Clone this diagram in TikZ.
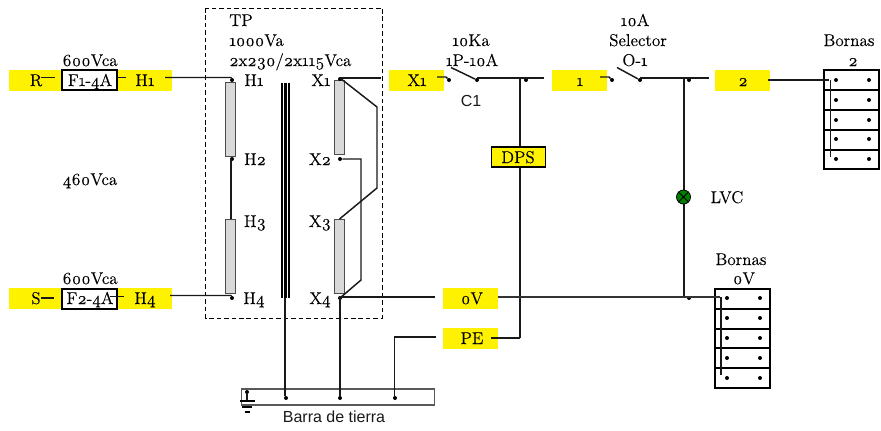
\documentclass[tikz,border=0pt]{standalone}
\usepackage{fontspec}
\setmainfont{Latin Modern Roman}[Numbers=OldStyle,FakeBold=0.15]
\newfontfamily\arialish{Liberation Sans}
\definecolor{tagyellow}{HTML}{FFF200}
\definecolor{coilgrey}{HTML}{D9D9D9}
\definecolor{lampgreen}{HTML}{008000}
\tikzset{
  lbl/.style={anchor=base,inner sep=0pt,font=\fontsize{12.8}{14}\selectfont,text=black},
  sanslbl/.style={anchor=base,inner sep=0pt,font=\arialish\fontsize{12}{14}\selectfont,text=black!90},
  tagbox/.style={fill=tagyellow,draw=none,minimum width=41.25pt,minimum height=15.75pt,inner sep=0pt},
  stripbox/.style={fill=tagyellow,draw=none,minimum width=122.25pt,minimum height=15.75pt,inner sep=0pt},
  fusebox/.style={fill=white,draw=black,line width=1.1pt,minimum width=41.25pt,minimum height=15pt,inner sep=0pt},
  dpsbox/.style={fill=yellow,draw=black,line width=.8pt,minimum width=40.5pt,minimum height=15pt,inner sep=0pt},
  coil/.style={fill=coilgrey,draw=black!70,line width=.7pt,minimum width=7.5pt,minimum height=55.5pt,inner sep=0pt},
  dotmark/.style={circle,fill=black,draw=none,minimum size=3pt,inner sep=0pt},
  wire/.style={draw=black!90,line width=1.1pt},
  termbox/.style={draw=black,line width=1.1pt},
}
\begin{document}
\begin{tikzpicture}[x=.75pt,y=-.75pt]
\useasboundingbox (0,0) rectangle (881,430);

% yellow tags
\node[stripbox] (stripR) at (90.5,80.5) {};
\node[stripbox] (stripS) at (90.5,298.5) {};
\node[fusebox] (fuseA) at (89.5,80) {};
\node[fusebox] (fuseB) at (89.5,299) {};
\node[tagbox] (tagX) at (416.5,80.5) {};
\node[tagbox] (tagA) at (579.5,80.5) {};
\node[tagbox] (tagB) at (742.5,80.5) {};
\node[tagbox] (tagZ) at (470.5,298.5) {};
\node[tagbox] (tagP) at (470.5,338.5) {};

% dashed enclosure
\draw[line width=.7pt,dash pattern=on 3.4pt off 2.2pt] (205.5,8) rectangle (382.5,318);

% coils
\node[coil] (coilA) at (230.5,119.5) {};
\node[coil] (coilB) at (230.5,256) {};
\node[coil] (coilC) at (339.5,117) {};
\node[coil] (coilD) at (339.5,256) {};

% core
\fill[black] (280.5,83) rectangle (289.5,298);
\fill[white] (282.6,83) rectangle (283.4,298);
\fill[white] (286.6,83) rectangle (287.4,298);

% earth bar
\node[draw=black!65,line width=.8pt,minimum width=145pt,minimum height=12pt,inner sep=0pt] (bar) at (337.75,397) {};

% dots
\foreach \n/\x/\y in {dA/232/80,dB/232/159,dC/232/298,dD/340/79,dE/340/159,dF/340/298,
  dG/449/80,dH/477/80,dI/526/80,dJ/612/80,dK/640/80,dL/689/80,dM/689/298,
  dN/286/398,dO/340/398,dP/395/398,dQ/247/392}
  \node[dotmark] (\n) at (\x,\y) {};

% terminal blocks
\draw[termbox] (824,70) rectangle (879,169);
\foreach \y in {90,110,130,150} \draw[termbox] (824,\y) -- (879,\y);
\foreach \n/\y in {1/80,2/100,3/120,4/139,5/159}{
  \node[dotmark] (tl\n) at (836,\y) {};
  \node[dotmark] (tr\n) at (869,\y) {};
}
\draw[termbox] (715,289) rectangle (770,388);
\foreach \y in {309,329,348,368} \draw[termbox] (715,\y) -- (770,\y);
\foreach \n/\y in {1/298,2/318,3/338,4/358,5/378}{
  \node[dotmark] (bl\n) at (727,\y) {};
  \node[dotmark] (br\n) at (760,\y) {};
}

% texts
\node[lbl] (v1) at (90,66) {600Vca};
\node[lbl] (v2) at (90,185) {460Vca};
\node[lbl] (v3) at (90,284) {600Vca};
\node[lbl] (tR) at (36,86) {R};
\node[lbl] (tF1) at (90,86) {F1-4A};
\node[lbl] (tH1) at (145,86) {H1};
\node[lbl] (tS) at (36,304) {S};
\node[lbl] (tF2) at (90,304) {F2-4A};
\node[lbl] (tH4) at (145,304) {H4};
\node[lbl,anchor=base west] (tp1) at (229,26) {TP};
\node[lbl,anchor=base west] (tp2) at (229,46) {1000Va};
\node[lbl,anchor=base west] (tp3) at (229,66) {2x230/2x115Vca};
\node[lbl] (pH1) at (254,86) {H1};
\node[lbl] (pH2) at (255,165) {H2};
\node[lbl] (pH3) at (255,227) {H3};
\node[lbl] (pH4) at (254,304) {H4};
\node[lbl] (sX1) at (321,86) {X1};
\node[lbl] (sX2) at (320,165) {X2};
\node[lbl] (sX3) at (320,227) {X3};
\node[lbl] (sX4) at (320,304) {X4};
\node[lbl] (tX1) at (417,86) {X1};
\node[lbl] (t10k) at (471,46) {10Ka};
\node[lbl] (t1p) at (472,66) {1P-10A};
\node[sanslbl] (tC1) at (471,106) {C1};
\node[lbl] (t1) at (580,86) {1};
\node[lbl] (t10a) at (635,26) {10A};
\node[lbl] (tSel) at (638,46) {Selector};
\node[lbl] (tO1) at (635,66) {O-1};
\node[lbl] (t2) at (743,86) {2};
\node[lbl] (tBo1) at (849,46) {Bornas};
\node[lbl] (tBo2) at (853,66) {2};
\node[lbl] (tLVC) at (727,203) {LVC};
\node[lbl] (tBo3) at (741,265) {Bornas};
\node[lbl] (tBo4) at (744,284) {0V};
\node[lbl] (t0V) at (472,304) {0V};
\node[lbl] (tPE) at (472,344) {PE};
\node[sanslbl] (tBar) at (334,422) {Barra de tierra};

% DPS and lamp are placed on the neutral wires
\coordinate (dpsTop) at (520,78);
\coordinate (dpsBot) at (520,338);
\draw[wire] (dpsTop) -- (dpsBot);
\node[dpsbox] (dps) at (518.5,157) {};
\node[lbl] (tDPS) at (518,163) {DPS};
\coordinate (lampTop) at (684,78);
\coordinate (lampBot) at (684,297);
\draw[wire] (lampTop) -- (lampBot);
\node[circle,fill=lampgreen,draw=black,line width=.6pt,minimum size=10.5pt,inner sep=0pt] (lamp) at (683.5,197) {};
\draw[black,line width=.6pt] (lamp.north west) -- (lamp.south east) (lamp.north east) -- (lamp.south west);

% connectors
\coordinate (rA) at (41,77.5); \coordinate (rB) at (55,77.5);
\coordinate (fA) at (117,77.5); \coordinate (fB) at (126,77.5);
\coordinate (h1A) at (165,77.5); \coordinate (h1B) at (231,77.5);
\draw[wire] (rA) -- (rB);
\draw[wire] (fA) -- (fB);
\draw[wire] (h1A) -- (h1B) -- (dA);
\coordinate (sA) at (41,298); \coordinate (sB) at (54,298);
\coordinate (f2A) at (110,296.5); \coordinate (f2B) at (124,296.5);
\coordinate (h4A) at (170,295.5); \coordinate (h4B) at (231,295.5);
\draw[wire] (sA) -- (sB);
\draw[wire] (f2A) -- (f2B);
\draw[wire] (h4A) -- (h4B) -- (dC);
\coordinate (hLink) at (231,159);
\draw[wire] (hLink) -- (hLink |- coilB.north);

\coordinate (x1L) at (340,78); \coordinate (x1R) at (381,78);
\draw[wire] (x1L) -- (x1R);
\coordinate (kA) at (377,107); \coordinate (kB) at (377,188); \coordinate (kC) at (339.5,219);
\draw[wire] (x1L) -- (kA) -- (kB) -- (kC);
\coordinate (mA) at (361,159); \coordinate (mB) at (361,280);
\draw[wire] (dE) -- (mA) -- (mB) -- (dF);
\coordinate (zL) at (340,297); \coordinate (zA) at (435,297);
\draw[wire] (zL) -- (zA);
\draw[wire] (zL) -- (zL |- dO.north);
\coordinate (coreBot) at (285,298);
\draw[wire] (coreBot) -- (coreBot |- dN.north);
\coordinate (peA) at (436,337); \coordinate (peB) at (394.5,337);
\coordinate (peC) at (491,338);
\draw[wire] (peA) -- (peB) -- (peB |- dP.north);
\draw[wire] (peC) -- (dpsBot);

\coordinate (xA) at (437,77); \coordinate (xB) at (446,77);
\draw[wire] (xA) -- (xB) -- (dG);
\coordinate (swA) at (451,67.5);
\draw[wire] (swA) -- (dH);
\coordinate (xD) at (477,78); \coordinate (xE) at (544,78);
\draw[wire] (xD) -- (xE);
\coordinate (oA) at (600,77); \coordinate (oB) at (609,77);
\draw[wire] (oA) -- (oB) -- (dJ);
\coordinate (swB) at (617,67.5);
\draw[wire] (swB) -- (dK);
\coordinate (oD) at (640,78); \coordinate (oE) at (709,78);
\draw[wire] (oD) -- (oE);
\coordinate (twoA) at (768,80);
\coordinate (twoB) at (829,80);
\draw[wire] (twoA) -- (twoB);
\coordinate (busAa) at (830.5,80); \coordinate (busAb) at (830.5,157);
\draw[wire] (busAa) -- (busAb);
\coordinate (zB) at (498,297); \coordinate (zC) at (720,297);
\draw[wire,black!80] (zB) -- (zC);
\coordinate (busBa) at (721,297); \coordinate (busBb) at (721,375);
\draw[wire] (busBa) -- (busBb);

% earth symbol
\coordinate (gA) at (247,401); \coordinate (gB) at (240,401); \coordinate (gC) at (255,401);
\coordinate (gD) at (242,407); \coordinate (gE) at (252,407);
\coordinate (gF) at (244.5,412); \coordinate (gG) at (249.5,412);
\draw[wire] (dQ) -- (gA);
\draw[black,line width=1.1pt] (gB) -- (gC);
\draw[black,line width=.9pt] (gD) -- (gE);
\draw[black,line width=1.1pt] (gF) -- (gG);
\end{tikzpicture}
\end{document}
